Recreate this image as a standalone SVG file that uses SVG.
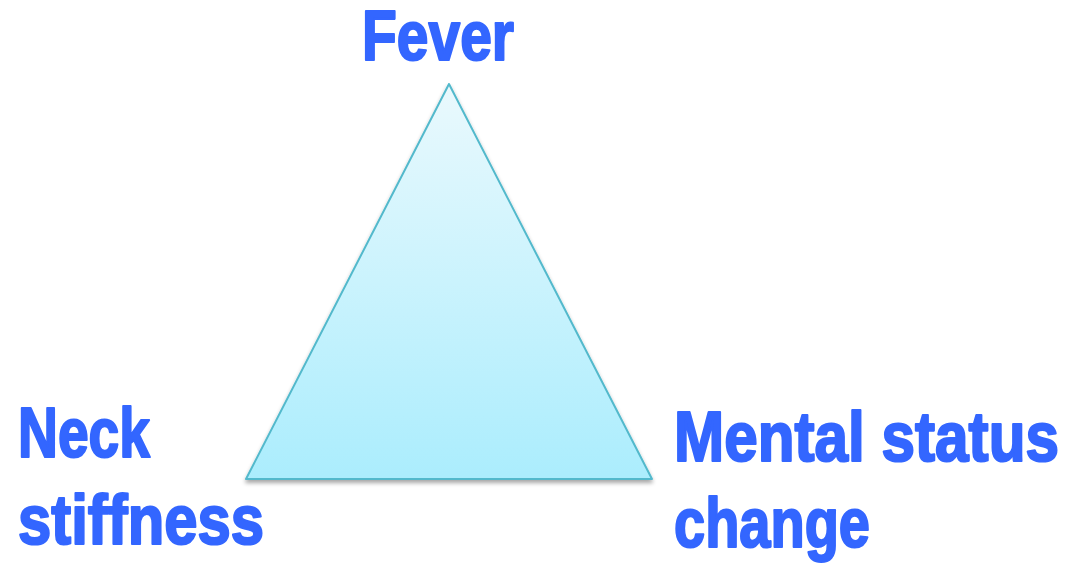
<svg xmlns="http://www.w3.org/2000/svg" width="1066" height="564" viewBox="0 0 1066 564">
<style>
.lbl{font-family:"Liberation Sans","DejaVu Sans",sans-serif;font-weight:bold;font-size:70px;fill:#3366ff;stroke:#3366ff;stroke-width:2.2px;stroke-linejoin:round}
</style>
<defs>
<linearGradient id="g" x1="0" y1="0" x2="0" y2="1">
<stop offset="0" stop-color="#eaf9fd"/>
<stop offset="1" stop-color="#abedfd"/>
</linearGradient>
<filter id="sh" x="-10%" y="-10%" width="120%" height="120%">
<feGaussianBlur in="SourceAlpha" stdDeviation="2"/>
<feOffset dx="0" dy="3" result="b"/>
<feComponentTransfer><feFuncA type="linear" slope="0.35"/></feComponentTransfer>
<feMerge><feMergeNode/><feMergeNode in="SourceGraphic"/></feMerge>
</filter>
</defs>
<g id="triangle">
<polygon points="449,84 246,479 652,479" fill="url(#g)" stroke="#52b9cc" stroke-width="2" stroke-linejoin="round" filter="url(#sh)"/>
</g>
<g id="fever">
<text class="lbl" x="362" y="60" textLength="152" lengthAdjust="spacingAndGlyphs">Fever</text>
</g>
<g id="neck">
<text class="lbl" x="18" y="457" textLength="132" lengthAdjust="spacingAndGlyphs">Neck</text>
<text class="lbl" x="18" y="544" textLength="246" lengthAdjust="spacingAndGlyphs">stiffness</text>
</g>
<g id="mental">
<text class="lbl" x="674" y="461" textLength="385" lengthAdjust="spacingAndGlyphs">Mental status</text>
<text class="lbl" x="674" y="547" textLength="196" lengthAdjust="spacingAndGlyphs">change</text>
</g>
<g id="connectors"></g>
</svg>
